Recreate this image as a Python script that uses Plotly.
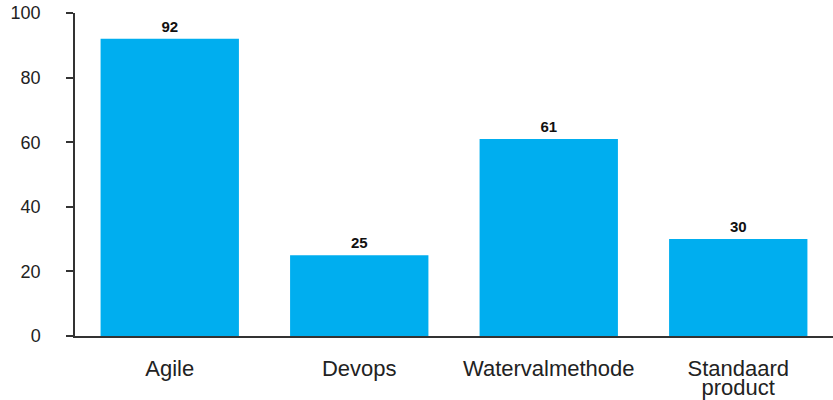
import plotly.graph_objects as go

categories = ['Agile', 'Devops', 'Watervalmethode', 'Standaard product']
label_line1 = ['Agile', 'Devops', 'Watervalmethode', 'Standaard']
label_line2 = ['', '', '', 'product']
values = [92, 25, 61, 30]
y_ticks = [0, 20, 40, 60, 80, 100]

fig = go.Figure()
fig.add_trace(go.Bar(
    x=categories,
    y=values,
    marker=dict(color='#00AEEF', line=dict(width=0)),
    width=0.73,
    hoverinfo='x+y',
))

# value labels above bars
fig.add_trace(go.Scatter(
    x=categories,
    y=values,
    mode='markers+text',
    marker=dict(size=4, color='rgba(0,0,0,0)'),
    text=['<b>%d</b>' % v for v in values],
    textposition='top center',
    textfont=dict(size=15, color='#111111', family='Liberation Sans'),
    cliponaxis=False,
    hoverinfo='skip',
))

# invisible trace to attach the second label row
fig.add_trace(go.Scatter(x=categories, y=[None] * 4, xaxis='x2',
                         mode='markers', hoverinfo='skip'))

fig.update_layout(
    width=833, height=400,
    margin=dict(l=75, r=0, t=13, b=64),
    plot_bgcolor='white', paper_bgcolor='white',
    font=dict(family='Liberation Sans', size=18, color='#222222'),
    showlegend=False,
    xaxis=dict(
        showline=True, linecolor='#333333', linewidth=1.5,
        ticks='', showgrid=False, automargin=False,
        tickmode='array', tickvals=categories, ticktext=label_line1,
        tickfont=dict(size=22),
        ticklabelstandoff=12,
    ),
    xaxis2=dict(
        matches='x', overlaying='x', side='bottom',
        showline=False, ticks='', showgrid=False, automargin=False,
        tickmode='array', tickvals=categories, ticktext=label_line2,
        tickfont=dict(size=22),
        ticklabelstandoff=36,
    ),
    yaxis=dict(
        range=[0, 100], tickvals=y_ticks,
        showline=True, linecolor='#333333', linewidth=1.5,
        ticks='outside', ticklen=7, tickcolor='#333333', tickwidth=1.5,
        showgrid=False, zeroline=False, automargin=False,
        tickfont=dict(size=18),
        ticklabelstandoff=22,
    ),
)

# drop the default 8px body margin so the figure fills the window
fig.write_html('out.html', config={'displayModeBar': False},
               post_script="document.body.style.margin='0';")
